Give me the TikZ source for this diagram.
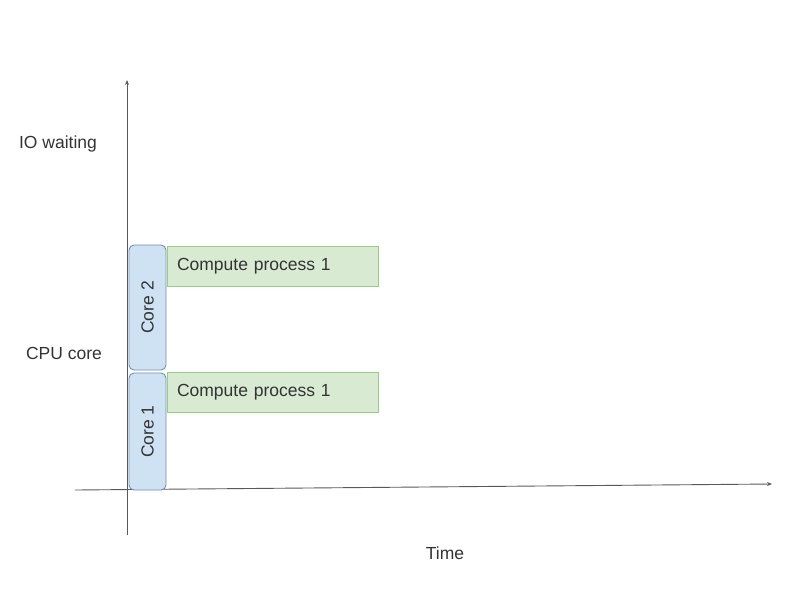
\documentclass[tikz,border=0pt]{standalone}
\usepackage{fontspec}
\setmainfont{Liberation Sans}
\usetikzlibrary{arrows.meta}
\definecolor{coreblue}{HTML}{CFE2F3}
\definecolor{coreline}{HTML}{6F8FAF}
\definecolor{jobgreen}{HTML}{D9EAD3}
\definecolor{jobline}{HTML}{9CCB86}
\definecolor{inkgray}{HTML}{333333}
\tikzset{
  axis/.style={draw=black!65,line width=0.9pt,-{Stealth[length=5pt,width=4pt]}},
  corebox/.style={draw=coreline,fill=coreblue,rounded corners=5pt,line width=0.9pt,
    rotate=90,minimum height=37pt,inner sep=0pt,text=inkgray},
  jobbox/.style={draw=jobline,fill=jobgreen,line width=0.9pt,minimum height=40pt,
    text width=191pt,inner xsep=10pt,align=left,text=inkgray},
  lbl/.style={text=inkgray}
}
\begin{document}
\begin{tikzpicture}[x=1pt,y=-1pt,font=\fontsize{17.5}{20}\selectfont]
  \useasboundingbox (0,0) rectangle (792,592);
  % axes
  \coordinate (ybot) at (127,535);
  \coordinate (ytop) at (127,80);
  \coordinate (xleft) at (75,490);
  \coordinate (xright) at (772,484);
  \draw[axis] (ybot) -- (ytop);
  \draw[axis] (xleft) -- (xright);
  % cores
  \node[corebox,minimum width=125pt] (core2) at (147.5,307.5) {Core 2};
  \node[corebox,minimum width=117pt] (core1) at (147.5,431.5) {Core 1};
  % jobs
  \node[jobbox] (job2) at (272.5,266) {Compute process 1};
  \node[jobbox] (job1) at (272.5,392.5) {Compute process 1};
  % labels
  \node[lbl] (io) at (58,144) {IO waiting};
  \node[lbl] (cpu) at (64,353) {CPU core};
  \node[lbl] (time) at (445,553) {Time};
\end{tikzpicture}
\end{document}
